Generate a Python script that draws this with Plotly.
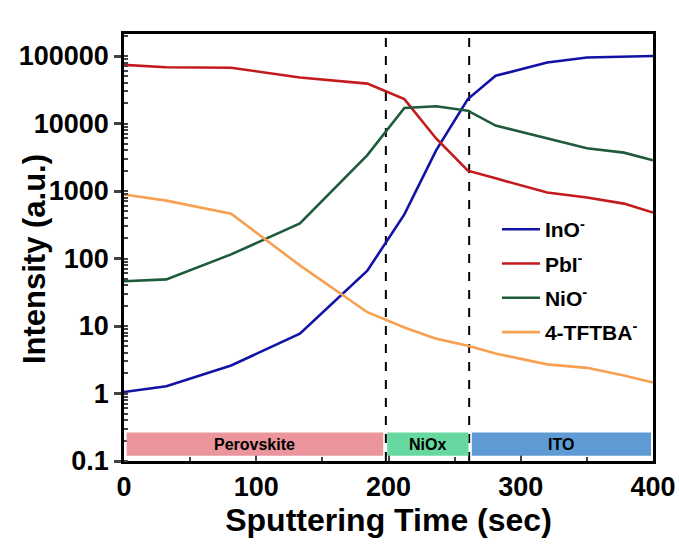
import plotly.graph_objects as go

time = [0, 32, 81, 133, 184, 212, 236, 260, 281, 320, 350, 378, 400]
ino = [1.05, 1.28, 2.6, 7.7, 66, 450, 4000, 23000, 51000, 80000, 95000, 98000, 100000]
pbi = [74000, 68000, 67000, 48000, 39000, 23000, 6000, 2000, 1540, 950, 800, 650, 480]
nio = [46, 49, 115, 330, 3400, 17000, 18000, 15500, 9300, 6000, 4300, 3700, 2850]
tftba = [890, 720, 460, 79, 16, 9.5, 6.5, 5.1, 3.9, 2.7, 2.4, 1.85, 1.45]

series_names = ["InO<sup>-</sup>", "PbI<sup>-</sup>", "NiO<sup>-</sup>", "4-TFTBA<sup>-</sup>"]
series_vals = [ino, pbi, nio, tftba]
series_colors = ["#1212A6", "#C41A1E", "#1F5A3A", "#F7A052"]

regions = ["Perovskite", "NiOx", "ITO"]
region_start = [2, 199, 263]
region_end = [196, 260.5, 398.5]
region_colors = ["#E9959B", "#66D8A0", "#5E9AD3"]
boundaries = [198, 261]

xtickvals = [0, 100, 200, 300, 400]
ytickvals = [0.1, 1, 10, 100, 1000, 10000, 100000]
yticktext = ["0.1", "1", "10", "100", "1000", "10000", "100000"]

FONT = "Liberation Sans, Arial, sans-serif"

fig = go.Figure()
for i, (name, vals, col) in enumerate(zip(series_names, series_vals, series_colors)):
    fig.add_trace(go.Scatter(x=time, y=vals, mode="lines", name=f"<b>{name}</b>",
                             line=dict(color=col, width=2.6),
                             legendgroup=f"g{i}"))

shapes = []
for b in boundaries:
    shapes.append(dict(type="line", x0=b, x1=b, xref="x", yref="paper", y0=0, y1=1,
                       line=dict(color="black", width=2, dash="dash"), layer="below"))
annotations = []
for r, s, e, c in zip(regions, region_start, region_end, region_colors):
    shapes.append(dict(type="rect", x0=s, x1=e, xref="x", yref="y", y0=0.12, y1=0.264,
                       fillcolor=c, line=dict(width=0), layer="above"))
    annotations.append(dict(x=(s + e) / 2, y=-0.75, xref="x", yref="y", text=f"<b>{r}</b>",
                            showarrow=False, font=dict(family=FONT, size=16, color="black"),
                            xanchor="center", yanchor="middle"))
annotations.append(dict(x=-0.170, y=0.473, xref="paper", yref="paper",
                        text="<b>Intensity (a.u.)</b>", textangle=-90, showarrow=False,
                        font=dict(family=FONT, size=31, color="black"),
                        xanchor="center", yanchor="middle"))

fig.update_layout(
    width=679, height=553,
    margin=dict(l=124, r=26, t=34, b=92),
    paper_bgcolor="white", plot_bgcolor="white",
    font=dict(family=FONT, color="black"),
    shapes=shapes, annotations=annotations,
    legend=dict(x=0.705, y=0.59, xanchor="left", yanchor="top",
                font=dict(family=FONT, size=21, color="black"),
                bgcolor="rgba(0,0,0,0)", tracegroupgap=4, traceorder="grouped",
                itemwidth=38),
    showlegend=True,
)
fig.update_xaxes(range=[0, 400], tickvals=xtickvals, ticktext=[f"<b>{t}</b>" for t in xtickvals],
                 ticks="inside", ticklen=6, tickwidth=2, automargin=False,
                 showline=True, linewidth=2.5, linecolor="black", mirror=True,
                 showgrid=False, zeroline=False,
                 tickfont=dict(family=FONT, size=27, color="black"),
                 minor=dict(dtick=50, ticks="inside", ticklen=4, tickwidth=2, showgrid=False),
                 title=dict(text="<b>Sputtering Time (sec)</b>", font=dict(family=FONT, size=32),
                            standoff=4))
fig.update_yaxes(type="log", range=[-1, 5.326], tickvals=ytickvals,
                 ticktext=[f"<b>{t}</b>" for t in yticktext],
                 ticks="outside", ticklen=7, tickwidth=2.5, automargin=False,
                 showline=True, linewidth=2.5, linecolor="black", mirror=True,
                 showgrid=False, zeroline=False,
                 tickfont=dict(family=FONT, size=27, color="black"),
                 minor=dict(dtick="D1", ticks="inside", ticklen=4, tickwidth=1.5, showgrid=False))

fig.write_html("out.html")
